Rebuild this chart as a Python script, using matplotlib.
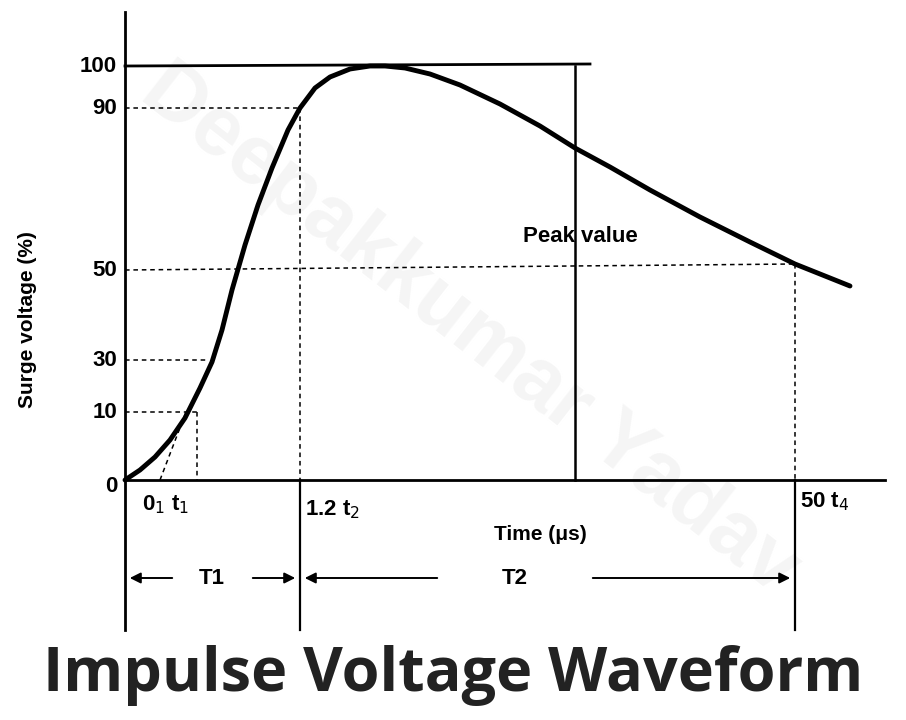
import matplotlib
matplotlib.use("Agg")
import matplotlib.pyplot as plt

# waveform (drawing units: x right, y down, as on the diagram)
curve_x = [125,140,155,170,185,200,212,222,232,245,258,272,288,300,315,330,350,370,385,405,430,460,500,540,575,610,650,700,750,795,825,850]
curve_y = [480,470,457,440,418,388,362,330,290,245,205,168,130,108,88,77,69,66,66,68,74,85,104,126,148,167,190,217,242,264,276,286]
ytick_labels = ["100","90","50","30","10","0"]
ytick_pos = [66,108,270,360,412,487]

fig = plt.figure(figsize=(9.06,7.2), dpi=100)
ax = fig.add_axes([0,0,1,1])
ax.set_xlim(0,906); ax.set_ylim(720,0); ax.axis('off')
F = dict(family='Liberation Sans', color='black', fontweight='bold')
ax.text(470,330,"Deepakkumar Yadav", rotation=-38, fontsize=60, color='#f5f5f5',
        fontweight='bold', ha='center', va='center', family='Liberation Sans', zorder=0)
lw=2
ax.plot([125,125],[12,630],'k',lw=lw)
ax.plot([125,885],[480,480],'k',lw=lw)
ax.plot([125,590],[66,64],'k',lw=lw)
ax.plot([575,575],[66,480],'k',lw=1.8)
d=dict(color='k',lw=1.1,ls=(0,(3,2.5)))
ax.plot([125,300],[108,108],**d); ax.plot([300,300],[108,480],**d)
ax.plot([300,300],[480,630],'k',lw=1.6)
ax.plot([125,795],[270,264],**d); ax.plot([795,795],[264,480],**d)
ax.plot([795,795],[480,630],'k',lw=1.6)
ax.plot([125,206],[360,360],**d)
ax.plot([125,197],[412,412],**d); ax.plot([197,197],[412,480],**d)
ax.plot([160,186],[480,412],**d)
ax.plot(curve_x,curve_y,'k',lw=3.5,solid_capstyle='round')
for y,l in zip(ytick_pos,ytick_labels):
    ax.text(117,y,l,ha='right',va='center',fontsize=16,**F)
ax.text(28,320,"Surge voltage (%)",rotation=90,ha='center',va='center',fontsize=15,**F)
ax.text(540,535,"Time (μs)",ha='center',va='center',fontsize=15,**F)
ax.text(580,236,"Peak value",ha='center',va='center',fontsize=16,**F)
ax.text(142,505,"0$_1$ t$_1$",ha='left',va='center',fontsize=16,**F)
ax.text(305,510,"1.2 t$_2$",ha='left',va='center',fontsize=16,**F)
ax.text(800,502,"50 t$_4$",ha='left',va='center',fontsize=16,**F)
ap=dict(arrowstyle='-|>',color='k',lw=1.4,mutation_scale=16)
ax.annotate("",xy=(127,578),xytext=(175,578),arrowprops=ap)
ax.annotate("",xy=(298,578),xytext=(250,578),arrowprops=ap)
ax.text(212,578,"T1",ha='center',va='center',fontsize=16,**F)
ax.annotate("",xy=(302,578),xytext=(440,578),arrowprops=ap)
ax.annotate("",xy=(793,578),xytext=(590,578),arrowprops=ap)
ax.text(515,578,"T2",ha='center',va='center',fontsize=16,**F)
ax.text(453,676,"Impulse Voltage Waveform",ha='center',va='center',fontsize=44,
        fontweight='bold',family='Open Sans',color='#222222')
fig.savefig("out.png",dpi=100)
